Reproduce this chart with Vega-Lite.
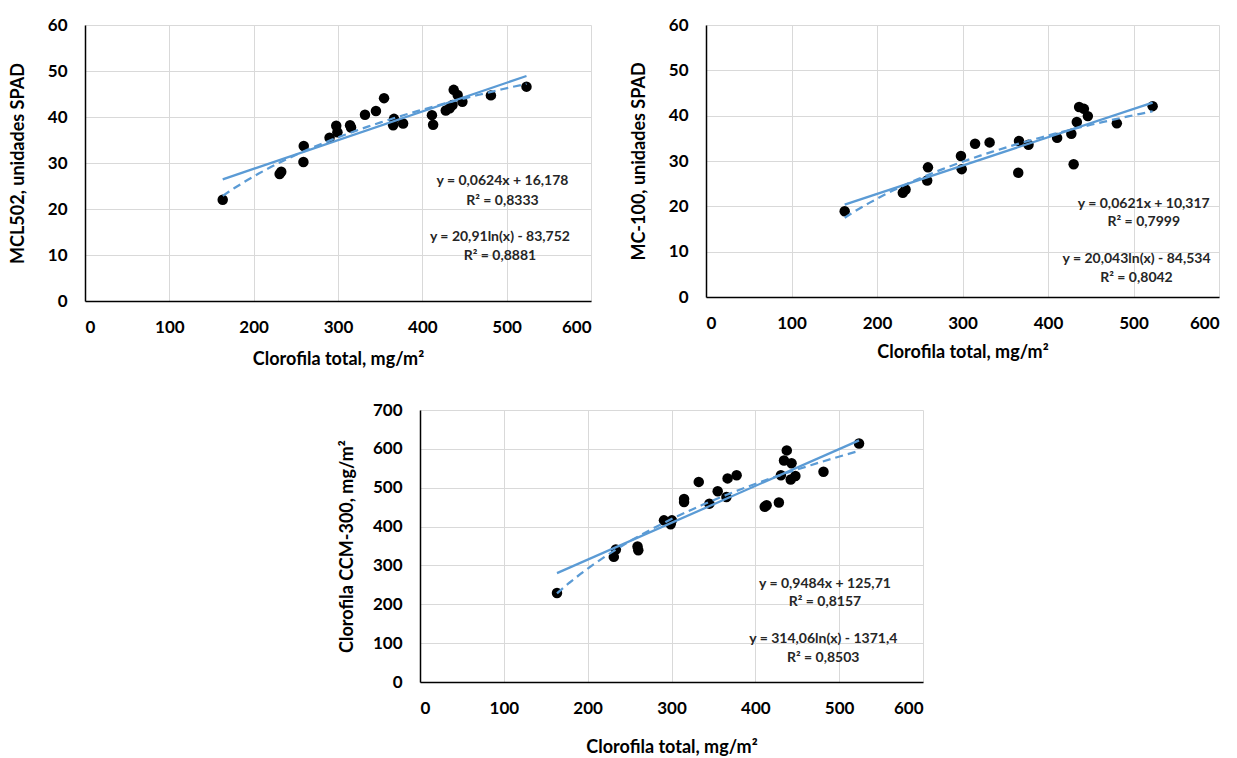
{
  "$schema": "https://vega.github.io/schema/vega-lite/v6.json",
  "background": "white",
  "padding": {"left": 9, "top": 16, "right": 5, "bottom": 5},
  "config": {
    "view": {"stroke": null},
    "font": "Lato",
    "axis": {
      "labelFont": "Lato", "labelFontWeight": "bold", "labelFontSize": 17, "labelColor": "#000000",
      "titleFont": "Lato", "titleFontWeight": "bold", "titleFontSize": 18, "titleColor": "#000000",
      "gridColor": "#d9d9d9", "gridWidth": 1, "domainColor": "#000000", "domainWidth": 1.5,
      "ticks": false, "labelPadding": 18
    }
  },
  "datasets": {
    "mcl502": [
      {"clorofila": 163.3, "valor": 22.0}, {"clorofila": 230.8, "valor": 27.6}, {"clorofila": 232.7, "valor": 28.1},
      {"clorofila": 259.4, "valor": 33.7}, {"clorofila": 259.0, "valor": 30.2}, {"clorofila": 290.0, "valor": 35.5},
      {"clorofila": 297.9, "valor": 38.1}, {"clorofila": 299.3, "valor": 36.7}, {"clorofila": 314.3, "valor": 38.2},
      {"clorofila": 315.5, "valor": 37.7}, {"clorofila": 332.0, "valor": 40.5}, {"clorofila": 345.0, "valor": 41.3},
      {"clorofila": 354.6, "valor": 44.1}, {"clorofila": 366.4, "valor": 39.6}, {"clorofila": 365.4, "valor": 38.2},
      {"clorofila": 377.2, "valor": 38.6}, {"clorofila": 411.4, "valor": 40.4}, {"clorofila": 412.8, "valor": 38.3},
      {"clorofila": 427.8, "valor": 41.4}, {"clorofila": 432.5, "valor": 41.9}, {"clorofila": 435.8, "valor": 42.6},
      {"clorofila": 437.2, "valor": 45.9}, {"clorofila": 441.9, "valor": 44.8}, {"clorofila": 447.5, "valor": 43.3},
      {"clorofila": 481.3, "valor": 44.7}, {"clorofila": 523.5, "valor": 46.6}
    ],
    "mc100": [
      {"clorofila": 162.2, "valor": 18.9}, {"clorofila": 230.2, "valor": 23.0}, {"clorofila": 233.4, "valor": 23.7},
      {"clorofila": 259.6, "valor": 28.6}, {"clorofila": 258.7, "valor": 25.7}, {"clorofila": 298.2, "valor": 31.1},
      {"clorofila": 299.1, "valor": 28.2}, {"clorofila": 314.7, "valor": 33.8}, {"clorofila": 331.7, "valor": 34.1},
      {"clorofila": 365.2, "valor": 27.4}, {"clorofila": 366.1, "valor": 34.4}, {"clorofila": 377.2, "valor": 33.6},
      {"clorofila": 410.7, "valor": 35.1}, {"clorofila": 427.3, "valor": 36.0}, {"clorofila": 430.0, "valor": 29.3},
      {"clorofila": 433.7, "valor": 38.6}, {"clorofila": 436.4, "valor": 41.9}, {"clorofila": 442.0, "valor": 41.5},
      {"clorofila": 446.6, "valor": 39.9}, {"clorofila": 480.5, "valor": 38.3}, {"clorofila": 522.4, "valor": 42.1}
    ],
    "ccm300": [
      {"clorofila": 163.4, "valor": 229}, {"clorofila": 231.2, "valor": 322}, {"clorofila": 233.6, "valor": 341},
      {"clorofila": 259.5, "valor": 349}, {"clorofila": 260.4, "valor": 339}, {"clorofila": 291.0, "valor": 416},
      {"clorofila": 299.0, "valor": 406}, {"clorofila": 300.5, "valor": 416}, {"clorofila": 315.0, "valor": 471},
      {"clorofila": 315.0, "valor": 463}, {"clorofila": 332.5, "valor": 515}, {"clorofila": 345.2, "valor": 459},
      {"clorofila": 355.1, "valor": 491}, {"clorofila": 365.5, "valor": 476}, {"clorofila": 366.9, "valor": 524},
      {"clorofila": 377.7, "valor": 532}, {"clorofila": 411.2, "valor": 451}, {"clorofila": 413.5, "valor": 455},
      {"clorofila": 428.1, "valor": 462}, {"clorofila": 430.5, "valor": 532}, {"clorofila": 434.2, "valor": 570},
      {"clorofila": 437.5, "valor": 596}, {"clorofila": 443.2, "valor": 563}, {"clorofila": 442.2, "valor": 521},
      {"clorofila": 447.8, "valor": 530}, {"clorofila": 481.3, "valor": 541}, {"clorofila": 523.7, "valor": 614}
    ],
    "eq1": [
      {"clorofila": 495, "valor": 26.0, "label": "y = 0,0624x + 16,178"},
      {"clorofila": 495, "valor": 21.8, "label": "R² = 0,8333"},
      {"clorofila": 492, "valor": 13.9, "label": "y = 20,91ln(x) - 83,752"},
      {"clorofila": 492, "valor": 9.8, "label": "R² = 0,8881"}
    ],
    "eq2": [
      {"clorofila": 512, "valor": 20.6, "label": "y = 0,0621x + 10,317"},
      {"clorofila": 512, "valor": 16.5, "label": "R² = 0,7999"},
      {"clorofila": 503.5, "valor": 8.4, "label": "y = 20,043ln(x) - 84,534"},
      {"clorofila": 503.5, "valor": 4.3, "label": "R² = 0,8042"}
    ],
    "eq3": [
      {"clorofila": 483, "valor": 253, "label": "y = 0,9484x + 125,71"},
      {"clorofila": 483, "valor": 205, "label": "R² = 0,8157"},
      {"clorofila": 481, "valor": 111, "label": "y = 314,06ln(x) - 1371,4"},
      {"clorofila": 481, "valor": 63, "label": "R² = 0,8503"}
    ]
  },
  "spacing": 33,
  "vconcat": [
    {
      "spacing": 39,
      "hconcat": [
        {
          "width": 506, "height": 276,
          "encoding": {
            "x": {"field": "clorofila", "type": "quantitative", "scale": {"domain": [0, 600], "nice": false},
                  "axis": {"values": [0, 100, 200, 300, 400, 500, 600], "title": "Clorofila total, mg/m²", "titlePadding": 15}},
            "y": {"field": "valor", "type": "quantitative", "scale": {"domain": [0, 60], "nice": false},
                  "axis": {"values": [0, 10, 20, 30, 40, 50, 60], "title": "MCL502, unidades SPAD", "titlePadding": 20}}
          },
          "layer": [
            {"data": {"name": "mcl502"}, "mark": {"type": "point", "filled": true, "color": "#000000", "size": 110, "opacity": 1}},
            {"data": {"name": "mcl502"}, "transform": [{"regression": "valor", "on": "clorofila"}],
             "mark": {"type": "line", "color": "#5B9BD5", "strokeWidth": 2.25}},
            {"data": {"name": "mcl502"}, "transform": [{"regression": "valor", "on": "clorofila", "method": "log"}],
             "mark": {"type": "line", "color": "#5B9BD5", "strokeWidth": 2.25, "strokeDash": [8, 5]}},
            {"data": {"name": "eq1"}, "mark": {"type": "text", "font": "Lato", "fontWeight": "bold", "fontSize": 14, "color": "#262626", "align": "center", "baseline": "middle"},
             "encoding": {"text": {"field": "label"}}}
          ]
        },
        {
          "width": 513, "height": 272,
          "encoding": {
            "x": {"field": "clorofila", "type": "quantitative", "scale": {"domain": [0, 600], "nice": false},
                  "axis": {"values": [0, 100, 200, 300, 400, 500, 600], "title": "Clorofila total, mg/m²", "titlePadding": 12}},
            "y": {"field": "valor", "type": "quantitative", "scale": {"domain": [0, 60], "nice": false},
                  "axis": {"values": [0, 10, 20, 30, 40, 50, 60], "title": "MC-100,  unidades SPAD", "titlePadding": 20}}
          },
          "layer": [
            {"data": {"name": "mc100"}, "mark": {"type": "point", "filled": true, "color": "#000000", "size": 110, "opacity": 1}},
            {"data": {"name": "mc100"}, "transform": [{"regression": "valor", "on": "clorofila"}],
             "mark": {"type": "line", "color": "#5B9BD5", "strokeWidth": 2.25}},
            {"data": {"name": "mc100"}, "transform": [{"regression": "valor", "on": "clorofila", "method": "log"}],
             "mark": {"type": "line", "color": "#5B9BD5", "strokeWidth": 2.25, "strokeDash": [8, 5]}},
            {"data": {"name": "eq2"}, "mark": {"type": "text", "font": "Lato", "fontWeight": "bold", "fontSize": 14, "color": "#262626", "align": "center", "baseline": "middle"},
             "encoding": {"text": {"field": "label"}}}
          ]
        }
      ]
    },
    {
      "spacing": 0,
      "hconcat": [
        {"width": 253, "height": 10, "data": {"values": [{}]}, "mark": {"type": "text", "text": ""}},
        {
          "width": 503, "height": 272,
          "encoding": {
            "x": {"field": "clorofila", "type": "quantitative", "scale": {"domain": [0, 600], "nice": false},
                  "axis": {"values": [0, 100, 200, 300, 400, 500, 600], "title": "Clorofila total, mg/m²", "titlePadding": 22}},
            "y": {"field": "valor", "type": "quantitative", "scale": {"domain": [0, 700], "nice": false},
                  "axis": {"values": [0, 100, 200, 300, 400, 500, 600, 700], "title": "Clorofila CCM-300, mg/m²", "titlePadding": 16}}
          },
          "layer": [
            {"data": {"name": "ccm300"}, "mark": {"type": "point", "filled": true, "color": "#000000", "size": 110, "opacity": 1}},
            {"data": {"name": "ccm300"}, "transform": [{"regression": "valor", "on": "clorofila"}],
             "mark": {"type": "line", "color": "#5B9BD5", "strokeWidth": 2.25}},
            {"data": {"name": "ccm300"}, "transform": [{"regression": "valor", "on": "clorofila", "method": "log"}],
             "mark": {"type": "line", "color": "#5B9BD5", "strokeWidth": 2.25, "strokeDash": [8, 5]}},
            {"data": {"name": "eq3"}, "mark": {"type": "text", "font": "Lato", "fontWeight": "bold", "fontSize": 14, "color": "#262626", "align": "center", "baseline": "middle"},
             "encoding": {"text": {"field": "label"}}}
          ]
        }
      ]
    }
  ]
}
